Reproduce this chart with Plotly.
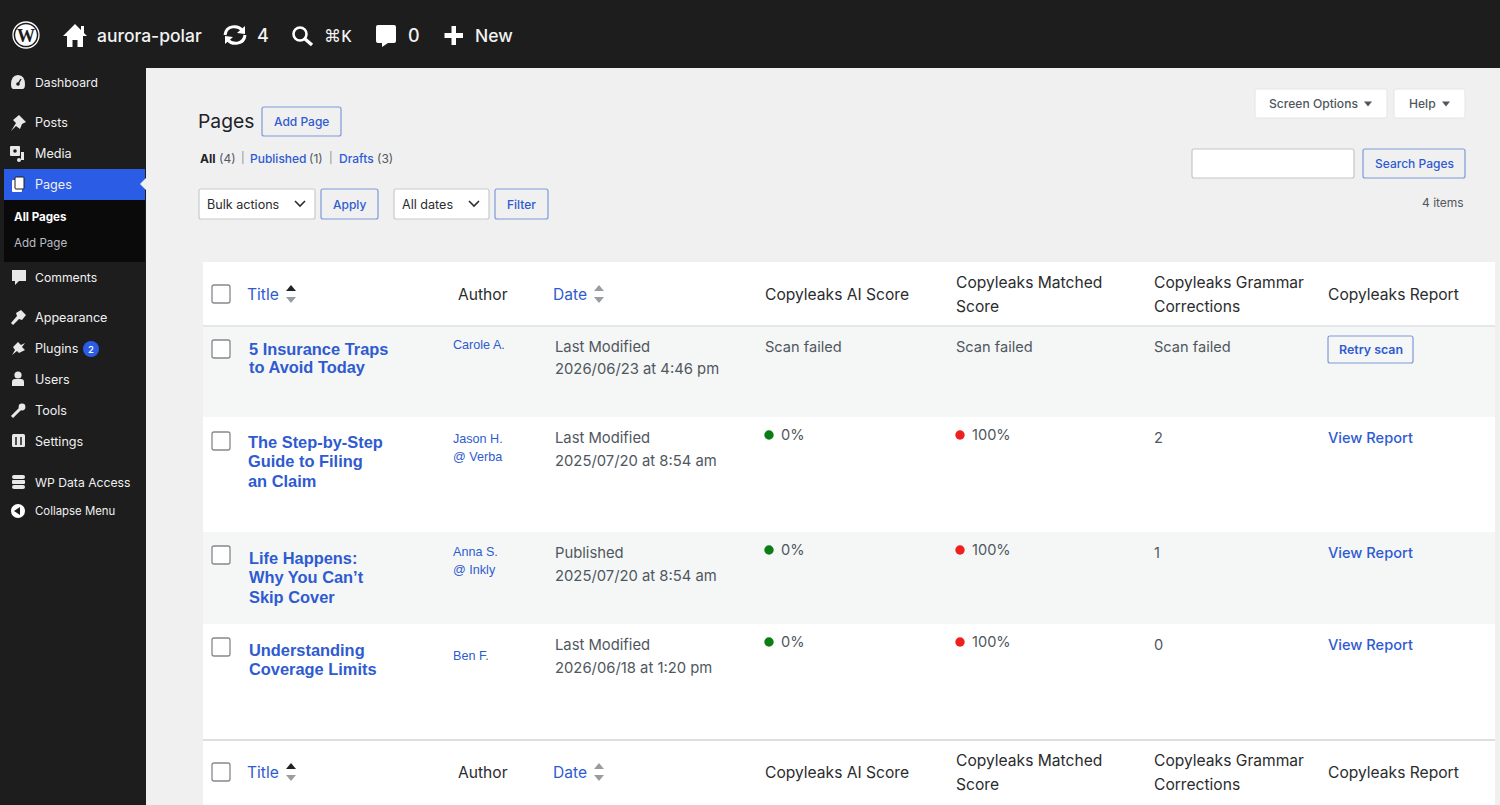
import plotly.graph_objects as go

UI = "Inter"
ARIAL = "Liberation Sans"
DARK = "#1d1d1d"
BLUE = "#2f5bd0"
TXT = "#3c4043"
INK = "#2a2c2e"

bar_labels = ["aurora-polar", "4", "⌘K", "0", "New"]
side_labels = ["Dashboard", "Posts", "Media", "Pages", "Comments", "Appearance", "Plugins",
               "Users", "Tools", "Settings", "WP Data Access", "Collapse Menu"]
sub_labels = ["All Pages", "Add Page"]
columns = ["Title", "Author", "Date", "Copyleaks AI Score", "Copyleaks Matched|Score",
           "Copyleaks Grammar|Corrections", "Copyleaks Report"]
titles = [["5 Insurance Traps", "to Avoid Today"],
          ["The Step-by-Step", "Guide to Filing", "an Claim"],
          ["Life Happens:", "Why You Can’t", "Skip Cover"],
          ["Understanding", "Coverage Limits"]]
authors = [["Carole A."], ["Jason H.", "@ Verba"], ["Anna S.", "@ Inkly"], ["Ben F."]]
statuses = ["Last Modified", "Last Modified", "Published", "Last Modified"]
dates = ["2026/06/23 at 4:46 pm", "2025/07/20 at 8:54 am", "2025/07/20 at 8:54 am", "2026/06/18 at 1:20 pm"]
ai_scores = ["Scan failed", "0%", "0%", "0%"]
matched_scores = ["Scan failed", "100%", "100%", "100%"]
grammar = ["Scan failed", "2", "1", "0"]
reports = ["Retry scan", "View Report", "View Report", "View Report"]

shapes, notes = [], []

def rect(x0, y0, x1, y1, fill, line=None, lw=1, r=0):
    if r:
        p = (f"M{x0+r},{y0} L{x1-r},{y0} Q{x1},{y0} {x1},{y0+r} L{x1},{y1-r} Q{x1},{y1} {x1-r},{y1} "
             f"L{x0+r},{y1} Q{x0},{y1} {x0},{y1-r} L{x0},{y0+r} Q{x0},{y0} {x0+r},{y0} Z")
        shapes.append(dict(type="path", path=p, fillcolor=fill, line=dict(color=line or fill, width=lw if line else 0), layer="above"))
    else:
        shapes.append(dict(type="rect", x0=x0, y0=y0, x1=x1, y1=y1, fillcolor=fill, line=dict(width=lw if line else 0, color=line or fill), layer="above"))

def path(d, fill="white", line=None, lw=0):
    shapes.append(dict(type="path", path=d, fillcolor=fill, line=dict(color=line or fill, width=lw), layer="above"))

def stroke(d, color="white", lw=2):
    shapes.append(dict(type="path", path=d, line=dict(color=color, width=lw), layer="above"))

def circ(cx, cy, r, fill, line=None, lw=0):
    shapes.append(dict(type="circle", x0=cx-r, x1=cx+r, y0=cy-r, y1=cy+r, fillcolor=fill, line=dict(color=line or fill, width=lw), layer="above"))

def T(x, y, s, size=14, color=TXT, weight=400, family=UI, anchor="left"):
    notes.append(dict(x=x - 1 if anchor == "left" else x, y=y, text=s, showarrow=False, xanchor=anchor, yanchor="middle",
                      font=dict(size=size, color=color, family=family, weight=weight), borderpad=0, align="left"))

def button(x0, y0, x1, y1, s, size=12):
    rect(x0, y0, x1, y1, "#f0f0f1", "#7f9ad8", 1.2, 2)
    T((x0+x1)/2, (y0+y1)/2, s, size, BLUE, 500, anchor="center")

def check(y):
    rect(212, y, 230, y+18, "white", "#85888c", 1.3, 2)

def tri(cx, cy, up, color, w=5, h=6):
    s = -1 if up else 1
    path(f"M{cx-w},{cy} L{cx+w},{cy} L{cx},{cy+s*h} Z", color)

def chevron(cx, cy):
    stroke(f"M{cx-5},{cy-3} L{cx},{cy+2} L{cx+5},{cy-3}", "#2a2c2e", 1.6)

# page regions
rect(0, 0, 1500, 805, "#f0f0f1")
rect(0, 0, 1500, 68, DARK)
rect(0, 68, 146, 805, DARK)
rect(4, 169, 145, 200, "#2b5ce6")
rect(4, 200, 145, 262, "#0a0a0a")

# table bands
rect(203, 262, 1495, 325, "white")
rect(203, 325, 1495, 327, "#e4e6e7")
rect(203, 327, 1495, 417, "#f5f6f6")
rect(203, 417, 1495, 532, "white")
rect(203, 532, 1495, 624, "#f5f7f7")
rect(203, 624, 1495, 739, "white")
rect(203, 739, 1495, 741, "#dcdee0")
rect(203, 741, 1495, 805, "white")

# admin bar
circ(26, 35, 13, DARK, "white", 1.3)
circ(26, 35, 10.8, "white")
T(26, 35.5, "W", 18, DARK, 700, "Liberation Serif", "center")
path("M75,24 L81,30 L81,26 L84,26 L84,33 L87,36 L83,36 L83,47 L77.5,47 L77.5,40 L72.5,40 L72.5,47 L67,47 L67,36 L63,36 Z")
T(97, 35, bar_labels[0], 17.5, "#f2f2f2", 500)
stroke("M225,35 C226,25 238,25 242,30", "white", 3)
stroke("M245,35 C244,45 232,45 228,40", "white", 3)
path("M245,26 L245,34 L237,33 Z")
path("M225,44 L225,36 L233,37 Z")
T(257, 35, bar_labels[1], 18, "#f2f2f2", 500)
circ(300, 34, 6.5, DARK, "white", 2.6)
shapes.append(dict(type="line", x0=305, y0=39, x1=312, y1=45, line=dict(color="white", width=3.4), layer="above"))
T(324, 35, bar_labels[2], 16.5, "#f2f2f2", 500, "Noto Sans")
path("M376,27 Q376,25 378,25 L394,25 Q396,25 396,27 L396,41 Q396,43 394,43 L388,43 L382,47 L382,43 L378,43 Q376,43 376,41 Z")
T(408, 35, bar_labels[3], 18, "#f2f2f2", 500)
rect(451.5, 26, 456, 45, "white")
rect(444.5, 33, 463, 38, "white")
T(475, 35, bar_labels[4], 17.5, "#f2f2f2", 500)

# side menu
side_y = [82, 122, 153, 184, 277, 317, 348, 379, 410, 441, 482, 511]
side_size = [12.2, 12.6, 12.6, 12.6, 12.2, 12.6, 12.6, 12.6, 12.6, 12.6, 12.2, 11.4]
for lab, y, sz in zip(side_labels, side_y, side_size):
    T(35, y, lab, sz, "#f0f0f1", 400)
# side icons
path("M11,85 Q11,75 18,75 Q25,75 25,85 Q25,88 23,89 L13,89 Q11,88 11,85 Z", "#e8e8e8")
circ(18, 84, 1.8, DARK)
stroke("M18,84 L21,79", DARK, 1.4)
path("M11,131 L16,123 L13,120 L19,115 L26,122 L22,124 L20,129 L16,126 Z", "#e8e8e8")
rect(10, 146, 20, 156, "#e8e8e8", None, 0, 1)
circ(15, 151, 1.8, DARK)
rect(21, 152, 24, 160, "#e8e8e8")
circ(19, 160, 2, "#e8e8e8")
rect(12, 180, 22, 192, "white", None, 0, 1)
rect(15, 177, 24, 189, "white", DARK, 1, 1)
path("M140,184 L146,178 L146,190 Z", "#f0f0f1")
path("M12,270 L26,270 L26,281 L19,281 L15,285 L15,281 L12,281 Z", "#e8e8e8")
path("M11,323 L17,316 L16,313 L21,310 L26,315 L22,320 L19,319 L13,325 Z", "#e8e8e8")
path("M12,355 L15,350 L13,347 L18,342 L21,345 L25,343 L22,347 L25,350 L19,353 L17,351 Z", "#e8e8e8")
circ(18, 375, 3.6, "#e8e8e8")
path("M12,386 L12,382 Q12,379 15,379 L21,379 Q24,379 24,382 L24,386 Z", "#e8e8e8")
shapes.append(dict(type="line", x0=12, y0=417, x1=22, y1=407, line=dict(color="#e8e8e8", width=3), layer="above"))
circ(22, 407, 3.4, "#e8e8e8")
rect(12, 434, 25, 447, "#e8e8e8", None, 0, 1.5)
stroke("M16,437 L16,445 M21,437 L21,445", DARK, 1.5)
rect(12, 475, 25, 479, "#e8e8e8", None, 0, 2)
rect(12, 480, 25, 484, "#e8e8e8", None, 0, 1)
rect(12, 485, 25, 489, "#e8e8e8", None, 0, 2)
circ(18, 511, 7, "white")
path("M14,511 L20,507 L20,515 Z", DARK)
circ(91, 349, 8, "#2b5ce6")
T(91, 349, "2", 9.5, "white", 500, anchor="center")
T(14, 217, sub_labels[0], 11.6, "white", 700)
T(14, 243, sub_labels[1], 11.6, "#b9bcc0", 400)

# heading row
T(198, 121, "Pages", 19.3, "#1d2327", 400)
button(262, 107, 341, 136, "Add Page")
T(200, 158, "All", 12, "#1d2327", 700)
T(219, 158, "(4)", 12, "#50575e")
T(241, 158, "|", 11, "#8a8f94")
T(250, 158, "Published", 12, BLUE, 500)
T(309, 158, "(1)", 12, "#50575e")
T(329, 158, "|", 11, "#8a8f94")
T(339, 158, "Drafts", 12, BLUE, 500)
T(377, 158, "(3)", 12, "#50575e")
rect(199, 189, 315, 219, "white", "#c8cacc", 1.2, 2)
T(207, 204, "Bulk actions", 12.6, INK)
chevron(300, 204)
button(321, 189, 378, 219, "Apply")
rect(394, 189, 489, 219, "white", "#c8cacc", 1.2, 2)
T(402, 204, "All dates", 12.6, INK)
chevron(474, 204)
button(495, 189, 548, 219, "Filter")
rect(1255, 89, 1387, 118, "white", "#e3e4e5", 1, 2)
T(1269, 103, "Screen Options", 12.1, "#50575e", 500)
tri(1368, 101.5, False, "#50575e", 4, 5)
rect(1394, 89, 1465, 118, "white", "#e3e4e5", 1, 2)
T(1409, 103, "Help", 12.1, "#50575e", 500)
tri(1446, 101.5, False, "#50575e", 4, 5)
rect(1192, 149, 1354, 178, "white", "#c4c6c8", 1.2, 2)
button(1363, 149, 1465, 178, "Search Pages")
T(1465, 202, "4 items", 12, "#50575e", anchor="right")

# table headers
HS = 15.6
def header(y):
    check(y - 9)
    T(247, y, columns[0], HS, BLUE, 400)
    tri(291, y - 3, True, "#1d2327", 5, 6)
    tri(291, y + 3, False, "#9a9da0", 5, 6)
    T(458, y, columns[1], HS, INK)
    T(553, y, columns[2], HS, BLUE, 400)
    tri(599, y - 3, True, "#9a9da0", 5, 6)
    tri(599, y + 3, False, "#9a9da0", 5, 6)
    T(765, y, columns[3], HS, INK)
    for x, col in zip((956, 1154), (columns[4], columns[5])):
        a, b = col.split("|")
        T(x, y - 12, a, HS, INK)
        T(x, y + 12, b, HS, INK)
    T(1328, y, columns[6], HS, INK)

header(294)
header(772)

# table rows
check_y = [340, 432, 546, 638]
title_x = [249, 248, 249, 249]
title_y = [[349, 367], [442, 461, 481], [558, 577, 597], [650, 669]]
author_y = [[345], [439, 457], [552, 570], [656]]
status_y = [347, 438, 553, 645]
date_y = [369, 461, 576, 668]
cell_y = [347, 435, 550, 642]
grammar_y = [347, 438, 553, 645]
report_y = [349, 438, 553, 645]

for i in range(4):
    check(check_y[i])
    for line, y in zip(titles[i], title_y[i]):
        T(title_x[i], y, line, 16.4, BLUE, 700, ARIAL)
    for line, y in zip(authors[i], author_y[i]):
        T(453, y, line, 12.6, BLUE, 400, ARIAL)
    T(555, status_y[i], statuses[i], 14.8, "#50575e")
    T(555, date_y[i], dates[i], 14.8, "#50575e")
    if i == 0:
        T(765, cell_y[i], ai_scores[i], 14.6, "#50575e")
        T(956, cell_y[i], matched_scores[i], 14.6, "#50575e")
        rect(1328, 336, 1413, 363, "#f5f6f6", "#7f9ad8", 1.2, 2)
        T(1370.5, report_y[i], reports[i], 12.4, BLUE, 600, anchor="center")
    else:
        circ(769, cell_y[i], 4.7, "#0a7d14")
        T(781, cell_y[i], ai_scores[i], 14.6, "#50575e")
        circ(960, cell_y[i], 4.7, "#f01f1f")
        T(972, cell_y[i], matched_scores[i], 14.6, "#50575e")
        T(1328, report_y[i], reports[i], 14.6, BLUE, 500)
    T(1154, grammar_y[i], grammar[i], 14.6, "#50575e")

fig = go.Figure(go.Scatter(x=[0, 1500], y=[0, 805], mode="markers", marker=dict(opacity=0), hoverinfo="skip"))
fig.update_layout(width=1500, height=805, margin=dict(l=0, r=0, t=0, b=0), showlegend=False,
                  paper_bgcolor="#f0f0f1", plot_bgcolor="#f0f0f1", shapes=shapes, annotations=notes,
                  xaxis=dict(range=[0, 1500], visible=False, fixedrange=True),
                  yaxis=dict(range=[805, 0], visible=False, fixedrange=True))
fig.write_html("out.html", config=dict(displayModeBar=False),
               post_script="document.body.style.margin='0';document.body.style.overflow='hidden';")
